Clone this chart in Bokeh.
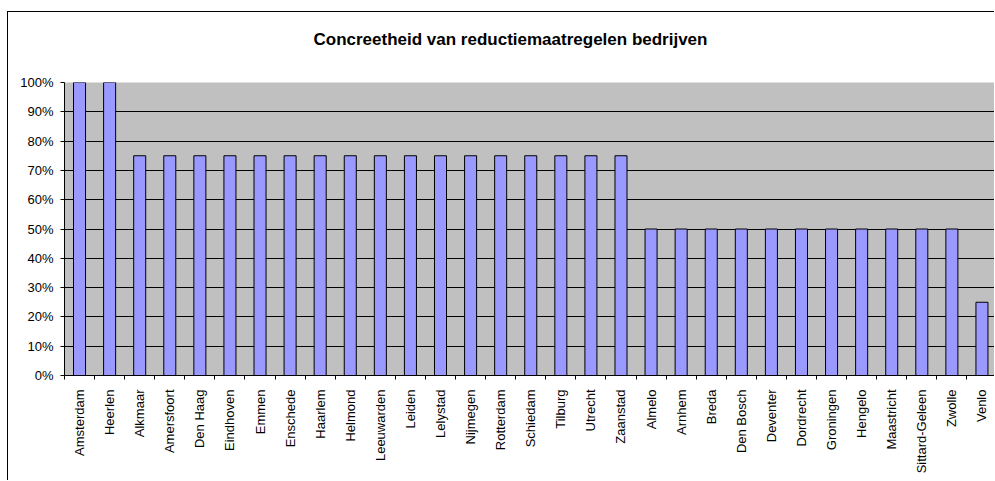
import math
from bokeh.plotting import figure
from bokeh.models import (LinearAxis, FixedTicker, NumeralTickFormatter, Range1d,
                          ColumnDataSource, Title, Grid)
from bokeh.embed import file_html
from bokeh.resources import INLINE

cities = ["Amsterdam", "Heerlen", "Alkmaar", "Amersfoort", "Den Haag", "Eindhoven",
          "Emmen", "Enschede", "Haarlem", "Helmond", "Leeuwarden", "Leiden", "Lelystad",
          "Nijmegen", "Rotterdam", "Schiedam", "Tilburg", "Utrecht", "Zaanstad",
          "Almelo", "Arnhem", "Breda", "Den Bosch", "Deventer", "Dordrecht", "Groningen",
          "Hengelo", "Maastricht", "Sittard-Geleen", "Zwolle", "Venlo"]
values = [1.0, 1.0, 0.75, 0.75, 0.75, 0.75, 0.75, 0.75, 0.75, 0.75, 0.75, 0.75, 0.75,
          0.75, 0.75, 0.75, 0.75, 0.75, 0.75,
          0.5, 0.5, 0.5, 0.5, 0.5, 0.5, 0.5, 0.5, 0.5, 0.5, 0.5, 0.25]
y_ticks = [i / 10 for i in range(11)]
title_text = "Concreetheid van reductiemaatregelen bedrijven"

xs = list(range(len(cities)))
src = ColumnDataSource(dict(x=xs, v=values))

FONT = "Liberation Sans"

p = figure(width=987, height=469, output_backend="svg", toolbar_location=None,
           x_range=Range1d(-0.5, 30.45), y_range=Range1d(0, 1),
           x_axis_type=None, y_axis_type=None,
           min_border_left=56, min_border_top=70, min_border_bottom=106, min_border_right=0)

p.margin = (11, 0, 0, 7)
p.styles = {"border-left": "1px solid black", "border-top": "1px solid black"}

p.border_fill_color = "white"
p.background_fill_color = "#C0C0C0"
p.outline_line_color = None
p.xgrid.visible = False
p.ygrid.visible = False

# spacer (nearest the frame) and title above it
spacer = Title(text=" ", text_font=FONT, text_font_size="1px", standoff=30)
p.add_layout(spacer, "above")
t = Title(text=title_text, align="left", offset=249, text_font=FONT,
          text_font_size="17px", text_font_style="bold", text_color="black",
          standoff=2)
p.add_layout(t, "above")

# y axis
yax = LinearAxis(ticker=FixedTicker(ticks=y_ticks),
                 formatter=NumeralTickFormatter(format="0%"),
                 major_label_text_font=FONT, major_label_text_font_size="13px",
                 major_label_text_color="black",
                 major_tick_out=4, major_tick_in=0, minor_tick_line_color=None,
                 axis_line_color="black", major_tick_line_color="black",
                 major_label_standoff=7)
p.add_layout(yax, "left")
p.add_layout(Grid(dimension=1, ticker=yax.ticker, grid_line_color="black",
                  grid_line_width=1))

# x axis: boundary ticks
bnd = [i + 0.5 for i in range(-1, len(cities))]
xax1 = LinearAxis(ticker=FixedTicker(ticks=bnd),
                  major_label_text_font_size="0px", major_label_standoff=0,
                  major_tick_out=4, major_tick_in=0, minor_tick_line_color=None,
                  axis_line_color="black", major_tick_line_color="black")
xax1.major_label_overrides = {b: "" for b in bnd}
p.add_layout(xax1, "below")

xax2 = LinearAxis(ticker=FixedTicker(ticks=xs),
                  major_label_overrides={i: c for i, c in enumerate(cities)},
                  major_label_orientation=math.pi / 2,
                  major_label_text_font=FONT, major_label_text_font_size="13px",
                  major_label_text_color="black",
                  major_tick_line_color=None, minor_tick_line_color=None,
                  axis_line_color=None, major_label_standoff=4)
p.add_layout(xax2, "below")

p.vbar(x="x", top="v", width=0.4, bottom=0, source=src,
       fill_color="#9999FF", line_color="black", line_width=1)

open("out.html", "w").write(file_html(p, INLINE))
